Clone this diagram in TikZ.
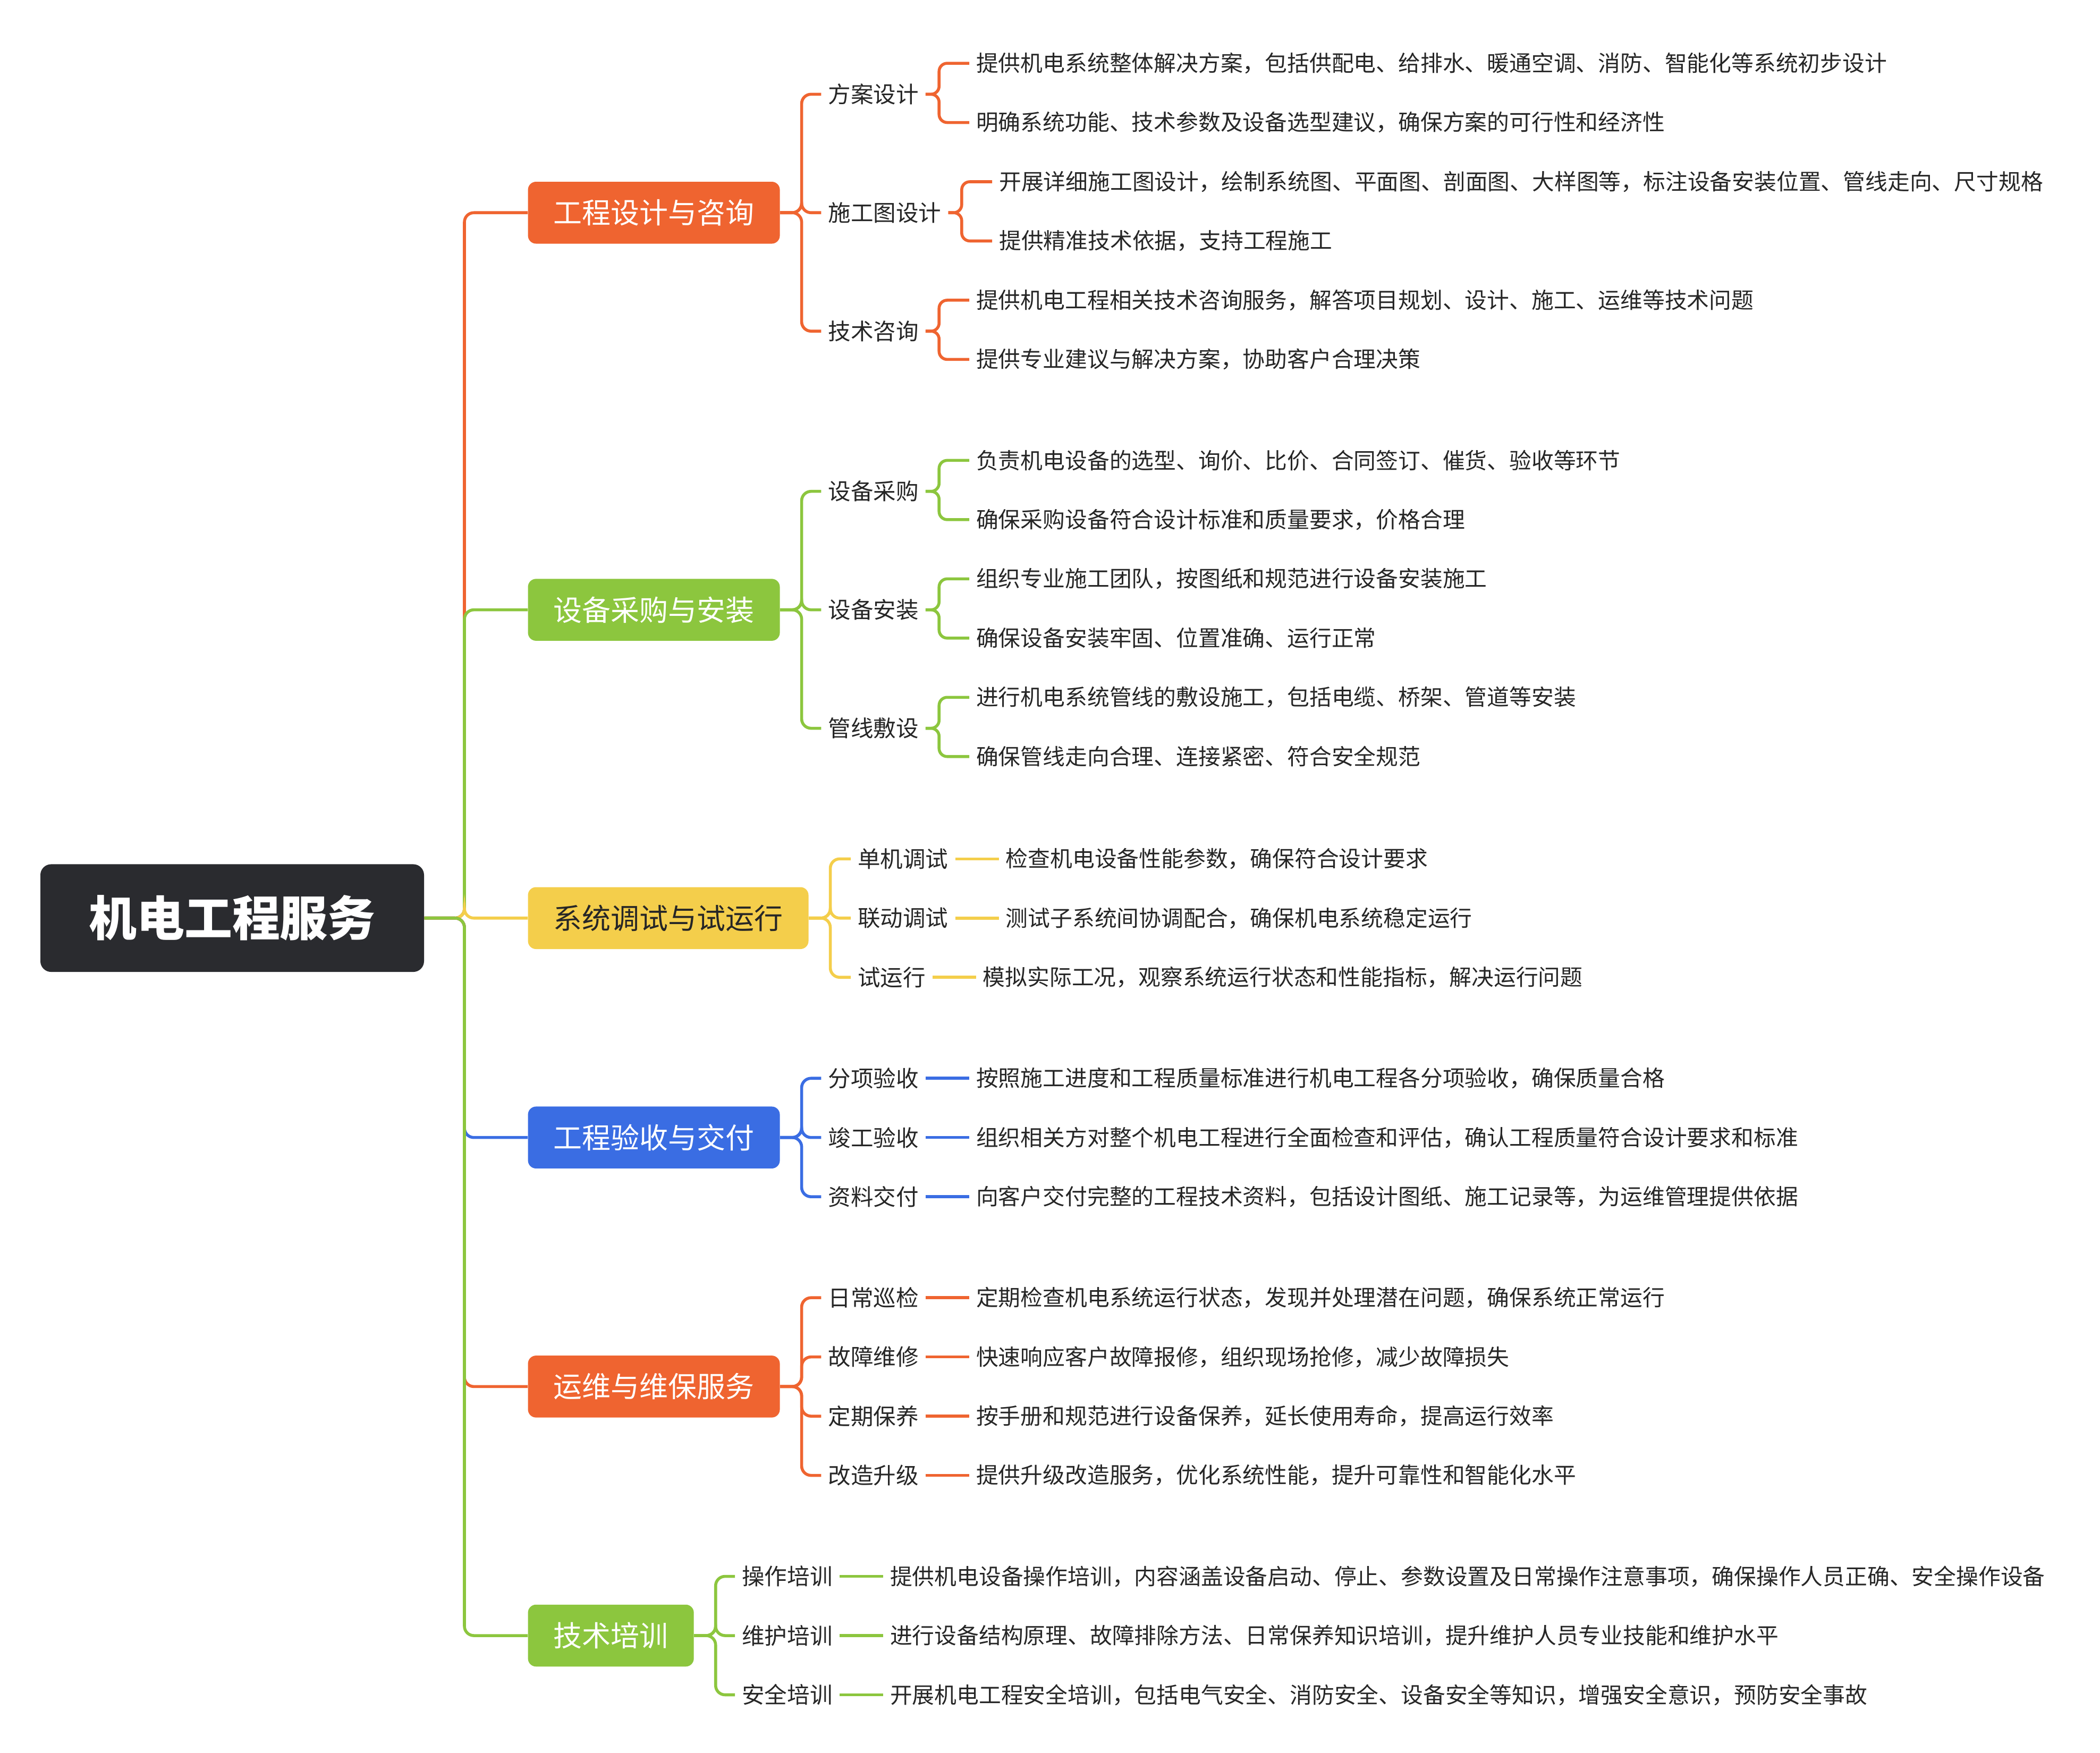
\documentclass[tikz,border=0pt]{standalone}
\usepackage{fontspec}
\setmainfont{Noto Sans CJK SC}
\begin{document}
\begin{tikzpicture}[x=1pt,y=-1pt,
  br/.style={rounded corners=6pt,minimum height=46pt,inner xsep=19pt,font=\fontsize{21.3}{24}\selectfont,text=white,anchor=west},
  sb/.style={anchor=west,inner xsep=5pt,inner ysep=2pt,font=\fontsize{16.8}{20}\selectfont,text=black!85,xshift=-2pt},
  lf/.style={anchor=west,inner xsep=5pt,inner ysep=2pt,font=\fontsize{16.5}{20}\selectfont,text=black!85,xshift=-2pt},
  ln/.style={line width=2.2pt,rounded corners=7pt}]
\definecolor{cor}{HTML}{EF6430}
\definecolor{cgr}{HTML}{8CC63E}
\definecolor{cye}{HTML}{F4CE4B}
\definecolor{cbl}{HTML}{3A6DE3}
\definecolor{croot}{HTML}{2A2B2F}
\useasboundingbox (0,0) rectangle (1560,1302);
\node[fill=croot,rounded corners=8pt,minimum width=285pt,minimum height=80pt,text=white,font=\fontsize{35.5}{40}\selectfont\bfseries] (root) at (172.5,682) {机电工程服务};
\node[br,fill=cor] (b1) at (392,158) {工程设计与咨询};
\node[br,fill=cgr] (b2) at (392,453) {设备采购与安装};
\node[br,fill=cye,text=black!85] (b3) at (392,682) {系统调试与试运行};
\node[br,fill=cbl] (b4) at (392,845) {工程验收与交付};
\node[br,fill=cor] (b5) at (392,1030) {运维与维保服务};
\node[br,fill=cgr] (b6) at (392,1215) {技术培训};
\foreach \b/\c in {b1/cor,b2/cgr,b3/cye,b4/cbl,b5/cor,b6/cgr}
  \draw[ln,\c] (root.east) -- (345,682) |- (\b.west);
% branch 1
\node[sb] (s11) at (612,70) {方案设计};
\node[sb] (s12) at (612,158) {施工图设计};
\node[sb] (s13) at (612,246) {技术咨询};
\node[lf] (l111) at (722,47) {提供机电系统整体解决方案，包括供配电、给排水、暖通空调、消防、智能化等系统初步设计};
\node[lf] (l112) at (722,91) {明确系统功能、技术参数及设备选型建议，确保方案的可行性和经济性};
\node[lf] (l121) at (739,135) {开展详细施工图设计，绘制系统图、平面图、剖面图、大样图等，标注设备安装位置、管线走向、尺寸规格};
\node[lf] (l122) at (739,179) {提供精准技术依据，支持工程施工};
\node[lf] (l131) at (722,223) {提供机电工程相关技术咨询服务，解答项目规划、设计、施工、运维等技术问题};
\node[lf] (l132) at (722,267) {提供专业建议与解决方案，协助客户合理决策};
% branch 2
\node[sb] (s21) at (612,365) {设备采购};
\node[sb] (s22) at (612,453) {设备安装};
\node[sb] (s23) at (612,541) {管线敷设};
\node[lf] (l211) at (722,342) {负责机电设备的选型、询价、比价、合同签订、催货、验收等环节};
\node[lf] (l212) at (722,386) {确保采购设备符合设计标准和质量要求，价格合理};
\node[lf] (l221) at (722,430) {组织专业施工团队，按图纸和规范进行设备安装施工};
\node[lf] (l222) at (722,474) {确保设备安装牢固、位置准确、运行正常};
\node[lf] (l231) at (722,518) {进行机电系统管线的敷设施工，包括电缆、桥架、管道等安装};
\node[lf] (l232) at (722,562) {确保管线走向合理、连接紧密、符合安全规范};
\foreach \b/\c/\s in {b1/cor/s11,b1/cor/s12,b1/cor/s13,b2/cgr/s21,b2/cgr/s22,b2/cgr/s23}
  \draw[ln,\c] (\b.east) -- ++(16,0) |- (\s.west);
\foreach \c/\s/\l in {cor/s11/l111,cor/s11/l112,cor/s12/l121,cor/s12/l122,cor/s13/l131,cor/s13/l132,cgr/s21/l211,cgr/s21/l212,cgr/s22/l221,cgr/s22/l222,cgr/s23/l231,cgr/s23/l232}
  \draw[ln,\c,rounded corners=6pt] (\s.east) -- ++(10,0) |- (\l.west);
% branch 3
\node[sb] (s31) at (634,638) {单机调试};
\node[sb] (s32) at (634,682) {联动调试};
\node[sb] (s33) at (634,726) {试运行};
\node[lf] (l31) at (744,638) {检查机电设备性能参数，确保符合设计要求};
\node[lf] (l32) at (744,682) {测试子系统间协调配合，确保机电系统稳定运行};
\node[lf] (l33) at (727,726) {模拟实际工况，观察系统运行状态和性能指标，解决运行问题};
% branch 4
\node[sb] (s41) at (612,801) {分项验收};
\node[sb] (s42) at (612,845) {竣工验收};
\node[sb] (s43) at (612,889) {资料交付};
\node[lf] (l41) at (722,801) {按照施工进度和工程质量标准进行机电工程各分项验收，确保质量合格};
\node[lf] (l42) at (722,845) {组织相关方对整个机电工程进行全面检查和评估，确认工程质量符合设计要求和标准};
\node[lf] (l43) at (722,889) {向客户交付完整的工程技术资料，包括设计图纸、施工记录等，为运维管理提供依据};
% branch 5
\node[sb] (s51) at (612,964) {日常巡检};
\node[sb] (s52) at (612,1008) {故障维修};
\node[sb] (s53) at (612,1052) {定期保养};
\node[sb] (s54) at (612,1096) {改造升级};
\node[lf] (l51) at (722,964) {定期检查机电系统运行状态，发现并处理潜在问题，确保系统正常运行};
\node[lf] (l52) at (722,1008) {快速响应客户故障报修，组织现场抢修，减少故障损失};
\node[lf] (l53) at (722,1052) {按手册和规范进行设备保养，延长使用寿命，提高运行效率};
\node[lf] (l54) at (722,1096) {提供升级改造服务，优化系统性能，提升可靠性和智能化水平};
% branch 6
\node[sb] (s61) at (548,1171) {操作培训};
\node[sb] (s62) at (548,1215) {维护培训};
\node[sb] (s63) at (548,1259) {安全培训};
\node[lf] (l61) at (658,1171) {提供机电设备操作培训，内容涵盖设备启动、停止、参数设置及日常操作注意事项，确保操作人员正确、安全操作设备};
\node[lf] (l62) at (658,1215) {进行设备结构原理、故障排除方法、日常保养知识培训，提升维护人员专业技能和维护水平};
\node[lf] (l63) at (658,1259) {开展机电工程安全培训，包括电气安全、消防安全、设备安全等知识，增强安全意识，预防安全事故};
\foreach \b/\c/\s in {b3/cye/s31,b3/cye/s32,b3/cye/s33,b4/cbl/s41,b4/cbl/s42,b4/cbl/s43,b5/cor/s51,b5/cor/s52,b5/cor/s53,b5/cor/s54,b6/cgr/s61,b6/cgr/s62,b6/cgr/s63}
  \draw[ln,\c] (\b.east) -- ++(16,0) |- (\s.west);
\foreach \c/\s/\l in {cye/s31/l31,cye/s32/l32,cye/s33/l33,cbl/s41/l41,cbl/s42/l42,cbl/s43/l43,cor/s51/l51,cor/s52/l52,cor/s53/l53,cor/s54/l54,cgr/s61/l61,cgr/s62/l62,cgr/s63/l63}
  \draw[ln,\c] (\s.east) -- (\l.west);
\end{tikzpicture}
\end{document}
